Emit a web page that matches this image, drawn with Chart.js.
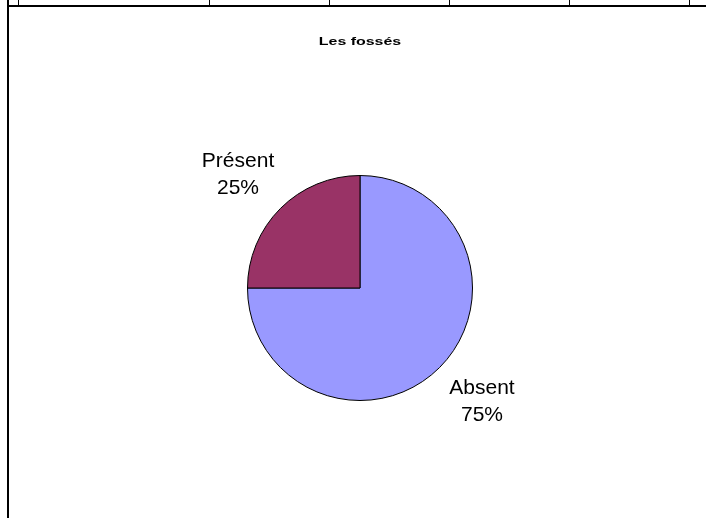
<!DOCTYPE html>
<html>
<head>
<meta charset="utf-8">
<script src="https://cdn.jsdelivr.net/npm/chart.js@4/dist/chart.umd.min.js"></script>
<style>
  body { margin: 0; background: #fff; }
  #wrap { position: relative; width: 706px; height: 518px; overflow: hidden; }
  #wrap canvas { position: absolute; left: 0; top: 0; }
  .ln { position: absolute; background: #000; }
</style>
</head>
<body>
<div id="wrap">
  <canvas id="pieChart" width="706" height="518"></canvas>
  <!-- bord du tableau au-dessus -->
  <div class="ln" style="left:7px;top:5px;width:699px;height:2px"></div>
  <div class="ln" style="left:7px;top:0;width:2px;height:518px"></div>
  <div class="ln" style="left:18px;top:0;width:1px;height:6px"></div>
  <div class="ln" style="left:209px;top:0;width:1px;height:6px"></div>
  <div class="ln" style="left:329px;top:0;width:1px;height:6px"></div>
  <div class="ln" style="left:449px;top:0;width:1px;height:6px"></div>
  <div class="ln" style="left:569px;top:0;width:1px;height:6px"></div>
  <div class="ln" style="left:689px;top:0;width:1px;height:6px"></div>
</div>
<script>
// Données du graphique
const chartTitle = 'Les fossés';
const categories = ['Absent', 'Présent'];
const values = [75, 25];
const sliceColors = ['#9999FF', '#993366'];

// Titre + étiquettes (nom + pourcentage) dessinés autour du camembert
const labelPlugin = {
    id: 'pieLabels',
    afterDatasetsDraw(chart) {
        const ctx = chart.ctx;
        const total = values.reduce((a, b) => a + b, 0);

        // titre
        ctx.save();
        ctx.fillStyle = '#000';
        ctx.font = 'bold 11px "Liberation Sans", Arial, sans-serif';
        ctx.textAlign = 'center';
        ctx.textBaseline = 'alphabetic';
        ctx.translate(360, 45);
        ctx.scale(1.45, 1);
        ctx.fillText(chartTitle, 0, 0);
        ctx.restore();

        ctx.save();
        ctx.fillStyle = '#000';
        ctx.font = '21px "Liberation Sans", Arial, sans-serif';
        ctx.textAlign = 'center';
        ctx.textBaseline = 'middle';
        chart.getDatasetMeta(0).data.forEach((arc, i) => {
            const p = arc.getProps(['x', 'y', 'startAngle', 'endAngle', 'outerRadius'], true);
            const mid = (p.startAngle + p.endAngle) / 2;
            const lx = p.x + Math.cos(mid) * (p.outerRadius + 60);
            const ly = p.y + Math.sin(mid) * (p.outerRadius + 48);
            const pct = Math.round(values[i] / total * 100) + '%';
            ctx.fillText(categories[i], lx, ly - 13.5);
            ctx.fillText(pct, lx, ly + 13.5);
        });
        ctx.restore();
    }
};

const ctxPie = document.getElementById('pieChart').getContext('2d');
new Chart(ctxPie, {
    type: 'pie',
    data: {
        labels: categories,
        datasets: [{
            data: values,
            backgroundColor: sliceColors,
            borderColor: '#000',
            borderWidth: 1
        }]
    },
    options: {
        responsive: false,
        animation: false,
        layout: {
            padding: { left: 247, right: 233, top: 175, bottom: 117 }
        },
        plugins: {
            legend: { display: false },
            title: { display: false },
            tooltip: { enabled: false }
        }
    },
    plugins: [labelPlugin]
});
</script>
</body>
</html>
